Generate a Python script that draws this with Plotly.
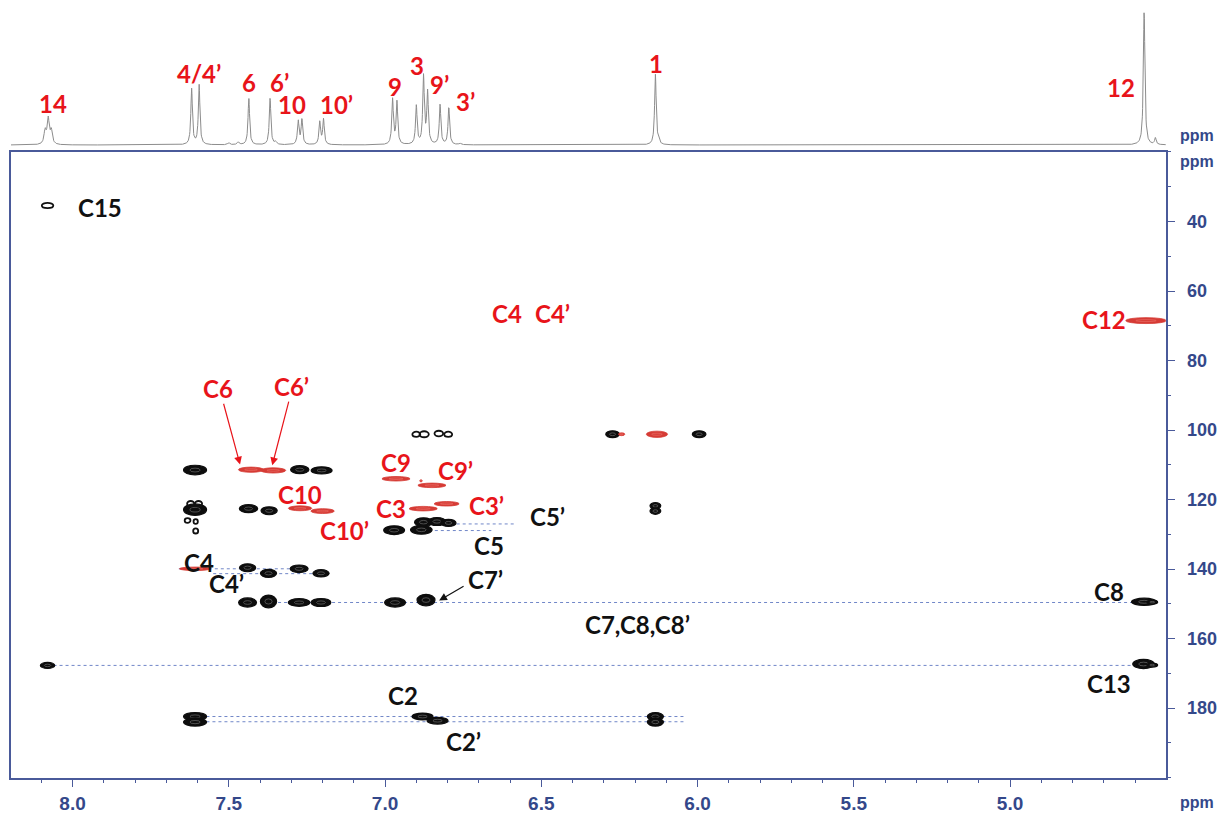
import numpy as np
import plotly.graph_objects as go

# ---------------- 1D proton spectrum (peak list) ----------------
h_shift = [8.088, 8.078, 8.068, 7.619, 7.595, 7.500, 7.470, 7.436, 7.368, 7.350,
           7.278, 7.266, 7.209, 7.197, 6.976, 6.962, 6.900, 6.877, 6.864, 6.824,
           6.796, 6.760, 6.135, 6.125, 4.571, 4.535]
h_height = [0.10, 0.19, 0.10, 0.42, 0.45, 0.015, 0.02, 0.35, 0.35, 0.02,
            0.18, 0.19, 0.17, 0.19, 0.34, 0.32, 0.29, 0.51, 0.39, 0.30,
            0.28, 0.01, 0.53, 0.03, 1.00, 0.05]
h_hwhm = [0.004, 0.004, 0.004, 0.003, 0.003, 0.004, 0.004, 0.003, 0.003, 0.004,
          0.003, 0.003, 0.003, 0.003, 0.003, 0.003, 0.003, 0.003, 0.003, 0.003,
          0.003, 0.004, 0.003, 0.003, 0.003, 0.003]

h_labels = ["14", "4/4’", "6", "6’", "10", "10’", "9", "3", "9’", "3’", "1", "12"]
h_label_x = [8.062, 7.595, 7.435, 7.339, 7.297, 7.156, 6.968, 6.897, 6.827, 6.744, 6.132, 4.644]
h_label_y = [0.873, 0.910, 0.898, 0.899, 0.871, 0.871, 0.894, 0.919, 0.896, 0.875, 0.9225, 0.892]

# ---------------- 2D correlation peaks ----------------
# black (HMBC) peaks: 1H ppm, 13C ppm, width (1H ppm), height (13C ppm), style
blk_h = [8.080, 6.272, 5.995, 6.900, 6.875, 6.828, 6.798,
         7.608, 7.273, 7.203,
         7.608, 7.622, 7.597, 7.632, 7.606, 7.606, 7.437, 7.371, 6.135, 6.135,
         6.877, 6.834, 6.797, 6.971, 6.884,
         7.440, 7.373, 7.275, 7.205,
         7.440, 7.373, 7.275, 7.205, 6.968, 6.869, 4.571, 4.545,
         8.080, 4.573, 4.545,
         7.608, 7.608, 6.880, 6.832, 6.135, 6.135]
blk_c = [35.4, 101.2, 101.2, 101.2, 101.2, 101.0, 101.2,
         111.5, 111.4, 111.6,
         122.9, 121.2, 121.2, 126.0, 126.3, 129.0, 122.6, 123.2, 121.8, 123.3,
         126.5, 126.3, 126.7, 128.8, 128.7,
         139.6, 141.2, 139.9, 141.2,
         149.6, 149.3, 149.6, 149.6, 149.6, 148.9, 149.4, 149.5,
         167.7, 167.3, 167.6,
         182.4, 184.0, 182.4, 183.6, 182.4, 184.0]
blk_wh = [0.032, 0.038, 0.038, 0.022, 0.026, 0.024, 0.022,
          0.064, 0.051, 0.058,
          0.064, 0.020, 0.020, 0.016, 0.012, 0.014, 0.051, 0.045, 0.030, 0.030,
          0.050, 0.050, 0.042, 0.058, 0.060,
          0.045, 0.045, 0.050, 0.045,
          0.050, 0.045, 0.060, 0.055, 0.058, 0.050, 0.070, 0.030,
          0.040, 0.060, 0.030,
          0.064, 0.064, 0.058, 0.058, 0.045, 0.045]
blk_wc = [1.3, 1.7, 1.7, 1.3, 1.5, 1.4, 1.3,
          2.4, 2.0, 1.8,
          2.9, 1.4, 1.4, 1.2, 1.2, 1.3, 2.0, 2.0, 1.6, 1.6,
          2.2, 2.0, 1.8, 2.2, 2.2,
          2.0, 2.0, 1.9, 1.8,
          2.3, 3.2, 1.9, 2.0, 2.3, 2.9, 1.8, 0.9,
          1.5, 2.3, 1.0,
          2.0, 2.0, 1.7, 1.7, 2.0, 2.0]
blk_style = ["ring", "fill", "fill", "ring", "ring", "ring", "ring",
             "fill", "fill", "fill",
             "fill", "ring", "ring", "ring", "ring", "ring", "fill", "fill", "fill", "fill",
             "fill", "fill", "fill", "fill", "fill",
             "fill", "fill", "fill", "fill",
             "fill", "fill", "fill", "fill", "fill", "fill", "fill", "fill",
             "fill", "fill", "fill",
             "fill", "fill", "fill", "fill", "fill", "fill"]

# red (HSQC) peaks
red_h = [4.565, 6.130, 6.243, 7.429, 7.358, 7.272, 7.200, 6.965, 6.850, 6.885, 6.878, 6.803, 7.608]
red_c = [68.5, 101.2, 101.2, 111.4, 111.6, 122.5, 123.3, 114.0, 115.9, 114.6, 122.6, 121.2, 139.9]
red_wh = [0.130, 0.068, 0.020, 0.080, 0.080, 0.075, 0.075, 0.090, 0.090, 0.008, 0.090, 0.080, 0.100]
red_wc = [1.7, 1.8, 0.8, 1.5, 1.5, 1.4, 1.4, 1.3, 1.3, 0.6, 1.3, 1.3, 1.0]

# dotted guide lines
guide_c = [139.9, 141.3, 149.6, 167.7, 182.4, 183.9, 127.0, 128.9]
guide_h0 = [7.66, 7.55, 7.40, 8.08, 7.61, 7.61, 6.79, 6.86]
guide_h1 = [7.26, 7.19, 4.57, 4.57, 6.04, 6.04, 6.58, 6.66]

# red labels
red_lab = ["C4", "C4’", "C12", "C6", "C6’", "C9", "C9’", "C10", "C10’", "C3", "C3’"]
red_lab_h = [6.609, 6.465, 4.701, 7.534, 7.301, 6.964, 6.776, 7.272, 7.131, 6.980, 6.676]
red_lab_c = [66.4, 66.4, 68.1, 88.0, 87.4, 109.3, 111.6, 118.5, 128.9, 122.5, 121.7]

# black labels
blk_lab = ["C15", "C5’", "C5", "C4", "C4’", "C7’", "C7,C8,C8’", "C8", "C13", "C2", "C2’"]
blk_lab_h = [7.912, 6.481, 6.667, 7.595, 7.509, 6.680, 6.193, 4.682, 4.682, 6.942, 6.750]
blk_lab_c = [36.1, 124.8, 133.2, 138.1, 144.1, 143.0, 155.9, 146.4, 172.9, 176.4, 189.6]

# arrows (tail -> head)
arr_h0 = [7.518, 7.307, 6.744]
arr_c0 = [92.0, 91.4, 144.7]
arr_h1 = [7.464, 7.361, 6.827]
arr_c1 = [109.9, 110.1, 149.0]
arr_col = ["#e8141a", "#e8141a", "#111111"]

x_ticks = [8.0, 7.5, 7.0, 6.5, 6.0, 5.5, 5.0]
y_ticks = [40, 60, 80, 100, 120, 140, 160, 180]

AX = "#4a5a9a"
LAB = "#34488a"
RED = "#e8141a"
BLOB = 1.15  # drawing scale of the black contour blobs

fig = go.Figure()

# 1D spectrum
xs = np.linspace(8.2, 4.5, 4000)
spec = np.zeros_like(xs)
for p, h, w in zip(h_shift, h_height, h_hwhm):
    spec += h / (1.0 + ((xs - p) / w) ** 2)
fig.add_trace(go.Scatter(x=xs, y=spec, mode="lines", line=dict(color="#8c8c8c", width=1),
                         xaxis="x2", yaxis="y2", hoverinfo="skip"))

# guide lines
for c, a, b in zip(guide_c, guide_h0, guide_h1):
    fig.add_trace(go.Scatter(x=[a, b], y=[c, c], mode="lines",
                             line=dict(color="#7187c8", width=1, dash="dot"),
                             xaxis="x", yaxis="y", hoverinfo="skip"))

shapes = []
for h, c, wh, wc, st in zip(blk_h, blk_c, blk_wh, blk_wc, blk_style):
    wh = wh * BLOB
    wc = wc * BLOB
    if st == "fill":
        shapes.append(dict(type="circle", xref="x", yref="y", x0=h - wh / 2, x1=h + wh / 2,
                           y0=c - wc / 2, y1=c + wc / 2, fillcolor="#0d0d0d",
                           line=dict(color="#0d0d0d", width=1.2)))
        shapes.append(dict(type="circle", xref="x", yref="y", x0=h - wh / 4.5, x1=h + wh / 4.5,
                           y0=c - wc / 5, y1=c + wc / 5, fillcolor="rgba(0,0,0,0)",
                           line=dict(color="#6a6a6a", width=0.7)))
    else:
        shapes.append(dict(type="circle", xref="x", yref="y", x0=h - wh / 2, x1=h + wh / 2,
                           y0=c - wc / 2, y1=c + wc / 2, fillcolor="rgba(0,0,0,0)",
                           line=dict(color="#111111", width=1.8)))
for h, c, wh, wc in zip(red_h, red_c, red_wh, red_wc):
    shapes.append(dict(type="circle", xref="x", yref="y", x0=h - wh / 2, x1=h + wh / 2,
                       y0=c - wc / 2, y1=c + wc / 2, fillcolor="#d63b35",
                       line=dict(color="#d63b35", width=0.8)))
    shapes.append(dict(type="circle", xref="x", yref="y", x0=h - wh / 4, x1=h + wh / 4,
                       y0=c - wc / 6, y1=c + wc / 6, fillcolor="rgba(0,0,0,0)",
                       line=dict(color="#ef7a72", width=0.5)))

ann = []
lab_font = dict(family="Lato, Open Sans, sans-serif", size=24, weight="bold")
for t, x, y in zip(h_labels, h_label_x, h_label_y):
    ann.append(dict(text=t, x=x, y=y, xref="x2", yref="paper", showarrow=False,
                    xanchor="center", yanchor="middle",
                    font=dict(lab_font, color=RED, size=24)))
for t, x, y in zip(red_lab, red_lab_h, red_lab_c):
    ann.append(dict(text=t, x=x, y=y, xref="x", yref="y", showarrow=False,
                    xanchor="center", yanchor="middle",
                    font=dict(lab_font, color=RED)))
for t, x, y in zip(blk_lab, blk_lab_h, blk_lab_c):
    ann.append(dict(text=t, x=x, y=y, xref="x", yref="y", showarrow=False,
                    xanchor="center", yanchor="middle",
                    font=dict(lab_font, color="#111111")))
for a, b, c, d, col in zip(arr_h0, arr_c0, arr_h1, arr_c1, arr_col):
    ann.append(dict(text="", x=c, y=d, ax=a, ay=b, xref="x", yref="y", axref="x", ayref="y",
                    showarrow=True, arrowhead=2, arrowsize=1.3, arrowwidth=1.2, arrowcolor=col))

ppm_font = dict(family="Liberation Sans, Arial, sans-serif", size=16, color=LAB, weight="bold")
for py in [0.833, 0.801, 0.0135]:
    ann.append(dict(text="ppm", x=0.9803, y=py, xref="paper", yref="paper", showarrow=False,
                    xanchor="center", yanchor="middle", font=ppm_font))

fig.update_layout(
    width=1221, height=813, margin=dict(l=0, r=0, t=0, b=0),
    plot_bgcolor="white", paper_bgcolor="white", showlegend=False,
    shapes=shapes, annotations=ann,
    xaxis=dict(domain=[0.00901, 0.95471], range=[8.197, 4.502], anchor="y",
               showline=True, linecolor=AX, linewidth=1.5, mirror=True,
               ticks="outside", ticklen=8, tickwidth=1.3, tickcolor=AX,
               tickvals=x_ticks, ticktext=[f"{v:.1f}" for v in x_ticks],
               tickfont=dict(family="Liberation Sans Narrow, Arial Narrow, Arial", size=19,
                             color=LAB, weight="bold"),
               ticklabelstandoff=0,
               minor=dict(tick0=0, dtick=0.1, ticks="outside", ticklen=4, tickcolor=AX, tickwidth=1),
               showgrid=False, zeroline=False, automargin=False),
    yaxis=dict(domain=[0.04342, 0.81304], range=[200, 20], anchor="x", side="right",
               showline=True, linecolor=AX, linewidth=1.5, mirror=True,
               ticks="outside", ticklen=8, tickwidth=1.3, tickcolor=AX,
               tickvals=y_ticks, ticktext=[str(v) for v in y_ticks],
               tickfont=dict(family="Liberation Sans, Arial, sans-serif", size=18,
                             color=LAB, weight="bold"),
               ticklabelstandoff=8,
               minor=dict(tick0=0, dtick=10, ticks="outside", ticklen=4, tickcolor=AX, tickwidth=1),
               showgrid=False, zeroline=False, automargin=False),
    xaxis2=dict(domain=[0.00901, 0.95471], range=[8.197, 4.502], anchor="y2", visible=False),
    yaxis2=dict(domain=[0.815, 1.0], range=[-0.0407, 1.09], anchor="x2", visible=False),
)

fig.write_html("out.html", config={"displayModeBar": False},
               post_script="document.body.style.margin='0';document.body.style.overflow='hidden';")
